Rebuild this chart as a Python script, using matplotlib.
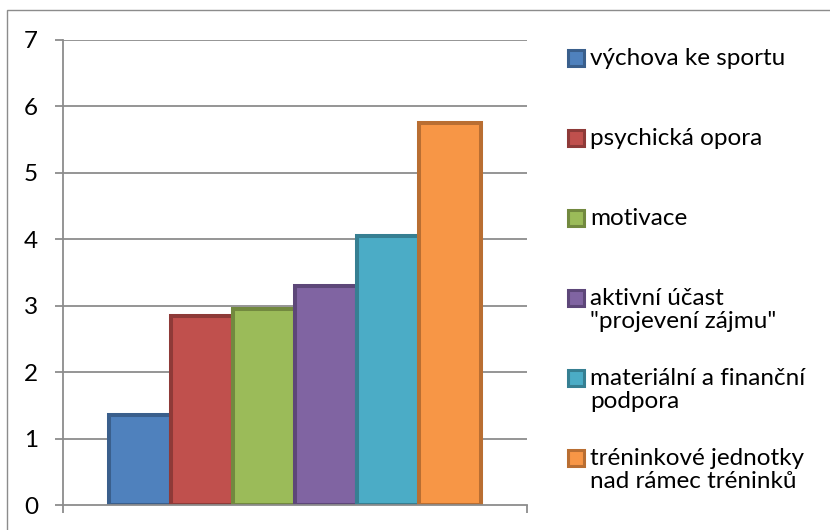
import matplotlib
matplotlib.use("Agg")
import matplotlib.pyplot as plt
from matplotlib.patches import Rectangle

# Data
labels = [
    "výchova ke sportu",
    "psychická opora",
    "motivace",
    "aktivní účast\n\"projevení zájmu\"",
    "materiální a finanční\npodpora",
    "tréninkové jednotky\nnad rámec tréninků",
]
values = [1.35, 2.85, 2.95, 3.3, 4.05, 5.75]
y_ticks = [0, 1, 2, 3, 4, 5, 6, 7]

fills = ["#4F81BD", "#C0504D", "#9BBB59", "#8064A2", "#4BACC6", "#F79646"]
edges = ["#3A5F8C", "#8E3A38", "#72893F", "#5D4779", "#367F92", "#B96E32"]

W, H = 830, 530
plt.rcParams["font.family"] = ["Lato", "DejaVu Sans"]
fig = plt.figure(figsize=(W / 100, H / 100), dpi=100)

# Outer chart frame (open at the right and bottom edges)
fig.add_artist(Rectangle((7 / W, -0.1), 1.2, 1 - 10 / H + 0.1,
                         transform=fig.transFigure, fill=False,
                         edgecolor="#8C8C8C", linewidth=1.0))

ax = fig.add_axes([63 / W, 1 - 505 / H, (527 - 63) / W, (505 - 40) / H])

grid_c = "#8C8C8C"
n = len(values)
bar_w = 0.8017 / n
x0 = -0.5 + (1 - 0.8017) / 2
for i, (v, fc, ec) in enumerate(zip(values, fills, edges)):
    ax.bar(x0 + i * bar_w, v, width=bar_w, align="edge", color=fc,
           edgecolor=ec, linewidth=2.9, zorder=3)

ax.set_xlim(-0.5, 0.5)
ax.set_ylim(0, 7)
ax.set_yticks(y_ticks)
ax.set_xticks([-0.5, 0.5])
ax.set_xticklabels([])
for yv in y_ticks[1:]:
    ax.axhline(yv, color=grid_c, linewidth=1.3, zorder=1)

for side in ["top", "right"]:
    ax.spines[side].set_visible(False)
for side in ["left", "bottom"]:
    ax.spines[side].set_color(grid_c)
    ax.spines[side].set_linewidth(1.3)
    ax.spines[side].set_zorder(4)

ax.tick_params(axis="y", direction="out", length=6, width=1.3,
               color=grid_c, labelsize=17.5, pad=12, labelcolor="black")
ax.tick_params(axis="x", direction="out", length=6, width=1.3, color=grid_c)

# Legend drawn as evenly spaced slots, first line aligned with the marker
for i, (lab, fc, ec) in enumerate(zip(labels, fills, edges)):
    yc = 58 + 80 * i
    fig.add_artist(Rectangle((568 / W, 1 - (yc + 8) / H), 16 / W, 16 / H,
                             transform=fig.transFigure, facecolor=fc,
                             edgecolor=ec, linewidth=2.2))
    for k, line in enumerate(lab.split("\n")):
        fig.text(590 / W, 1 - (yc + 7 + 23 * k) / H, line, fontsize=17.5,
                 va="baseline", ha="left", color="black")

fig.savefig("out.png", dpi=100)
